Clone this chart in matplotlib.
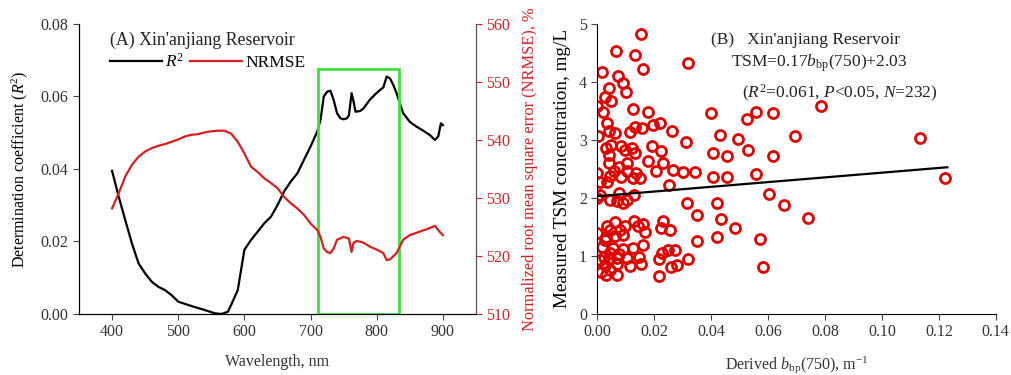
import numpy as np
import matplotlib
matplotlib.use('Agg')
import matplotlib.pyplot as plt
from matplotlib.patches import Rectangle

plt.rcParams['font.family'] = ['Liberation Serif', 'DejaVu Serif']
plt.rcParams['mathtext.fontset'] = 'custom'
plt.rcParams['mathtext.rm'] = 'Liberation Serif'
plt.rcParams['mathtext.it'] = 'Liberation Serif:italic'

## panel A data
wl_r2 = [400, 410, 420, 430, 440, 450, 460, 470, 480, 490, 500, 520, 540, 555, 565,
         575, 580, 590, 600, 610, 620, 630, 640, 650, 660, 670, 680, 690, 700, 710,
         715, 720, 725, 730, 735, 740, 745, 750, 755, 758, 762, 765, 768, 775, 780,
         790, 800, 805, 810, 815, 820, 825, 830, 835, 840, 850, 860, 870, 880, 888,
         893, 897, 900]
r2 = [0.0395, 0.0324, 0.0259, 0.0195, 0.0140, 0.0112, 0.0089, 0.0075, 0.0066, 0.0052,
      0.0034, 0.0022, 0.0011, 0.0002, 0.0000, 0.0006, 0.0025, 0.0066, 0.0177, 0.0204,
      0.0227, 0.0250, 0.0268, 0.0300, 0.0338, 0.0365, 0.0388, 0.0425, 0.0462, 0.0503,
      0.0535, 0.0600, 0.0613, 0.0616, 0.0590, 0.0554, 0.0540, 0.0537, 0.0540, 0.0548,
      0.0609, 0.0586, 0.0558, 0.0560, 0.0567, 0.0592, 0.0610, 0.0618, 0.0625, 0.0655,
      0.0650, 0.0632, 0.0609, 0.0581, 0.0554, 0.0530, 0.0517, 0.0506, 0.0494, 0.0480,
      0.0490, 0.0526, 0.0521]

wl_nr = [400, 410, 420, 430, 440, 450, 460, 470, 480, 490, 500, 510, 520, 530, 540,
         550, 560, 570, 580, 590, 600, 610, 620, 630, 640, 650, 660, 670, 680, 690,
         700, 710, 715, 720, 725, 730, 735, 740, 750, 758, 762, 765, 770, 780, 790,
         800, 810, 815, 820, 830, 840, 850, 860, 870, 880, 888, 895, 900]
nrmse = [528.2, 530.8, 533.7, 535.7, 537.1, 538.0, 538.6, 539.0, 539.3, 539.7, 540.1,
         540.6, 540.9, 541.0, 541.3, 541.5, 541.6, 541.6, 541.1, 539.7, 537.7, 535.4,
         534.5, 533.4, 532.6, 531.7, 530.2, 529.1, 528.2, 527.1, 525.6, 524.5, 523.3,
         521.3, 520.7, 520.5, 521.3, 522.8, 523.3, 523.0, 520.7, 522.3, 522.6, 522.3,
         521.6, 521.1, 520.5, 519.3, 519.4, 520.5, 522.8, 523.6, 524.0, 524.4, 524.8,
         525.2, 524.2, 523.6]

box_wl = [711, 833]
box_top = 0.0676

## panel B data
bbp = [0.0155, 0.0064, 0.0131, 0.0159, 0.0320, 0.0016, 0.0074, 0.0091, 0.0042, 0.0101,
       0.0028, 0.0049, 0.0000, 0.0124, 0.0178, 0.0021, 0.0398, 0.0786, 0.0558, 0.0619,
       0.0527, 0.0033, 0.0197, 0.0220, 0.0131, 0.0157, 0.0040, 0.0115, 0.0262, 0.0063,
       0.0002, 0.0431, 0.0694, 0.1134, 0.0493, 0.0310, 0.0049, 0.0082, 0.0192, 0.0030,
       0.0122, 0.0225, 0.0098, 0.0131, 0.0528, 0.0408, 0.0455, 0.0616, 0.0040, 0.0178,
       0.0230, 0.0042, 0.0103, 0.0077, 0.0206, 0.0265, 0.0105, 0.0057, 0.0136, 0.0302,
       0.0342, 0.0558, 0.0000, 0.0045, 0.0084, 0.0127, 0.0150, 0.0408, 0.0455, 0.1221,
       0.0009, 0.0033, 0.0251, 0.0009, 0.0077, 0.0129, 0.0602, 0.0000, 0.0045, 0.0068,
       0.0091, 0.0103, 0.0314, 0.0422, 0.0656, 0.0351, 0.0436, 0.0740, 0.0062, 0.0129,
       0.0159, 0.0232, 0.0035, 0.0098, 0.0045, 0.0080, 0.0143, 0.0169, 0.0225, 0.0255,
       0.0483, 0.0000, 0.0030, 0.0061, 0.0089, 0.0419, 0.0572, 0.0351, 0.0028, 0.0016,
       0.0056, 0.0091, 0.0124, 0.0159, 0.0045, 0.0023, 0.0075, 0.0227, 0.0248, 0.0274,
       0.0009, 0.0040, 0.0070, 0.0103, 0.0148, 0.0216, 0.0319, 0.0028, 0.0068, 0.0115,
       0.0153, 0.0260, 0.0279, 0.0583, 0.0014, 0.0030, 0.0068, 0.0216, 0.0045]
tsm = [4.82, 4.53, 4.46, 4.23, 4.32, 4.17, 4.11, 3.98, 3.90, 3.83,
       3.74, 3.68, 3.58, 3.54, 3.48, 3.48, 3.46, 3.58, 3.48, 3.46,
       3.36, 3.29, 3.26, 3.29, 3.22, 3.20, 3.16, 3.13, 3.16, 3.12,
       3.07, 3.08, 3.07, 3.03, 3.01, 2.97, 2.92, 2.89, 2.89, 2.86,
       2.86, 2.81, 2.82, 2.78, 2.82, 2.77, 2.73, 2.72, 2.74, 2.63,
       2.61, 2.60, 2.61, 2.54, 2.47, 2.49, 2.47, 2.46, 2.43, 2.44,
       2.44, 2.42, 2.43, 2.38, 2.37, 2.34, 2.35, 2.37, 2.37, 2.35,
       2.28, 2.28, 2.22, 2.05, 2.09, 2.05, 2.07, 2.00, 1.97, 1.94,
       1.92, 1.96, 1.92, 1.92, 1.88, 1.71, 1.63, 1.66, 1.58, 1.60,
       1.56, 1.60, 1.51, 1.52, 1.45, 1.44, 1.51, 1.42, 1.48, 1.45,
       1.49, 1.39, 1.32, 1.35, 1.36, 1.32, 1.30, 1.25, 1.27, 1.15,
       1.13, 1.12, 1.13, 1.19, 1.05, 0.99, 1.04, 1.06, 1.10, 1.10,
       0.93, 0.94, 0.96, 0.96, 0.98, 0.94, 0.94, 0.85, 0.87, 0.83,
       0.87, 0.81, 0.85, 0.81, 0.73, 0.67, 0.68, 0.66, 0.76]
fit_x = [0.0, 0.123]
fit_y = [2.03, 2.53]

red = '#d81e1e'
fs = 11.5

fig = plt.figure(figsize=(10.11, 3.75), dpi=100)

# ---- panel A
ax = fig.add_axes([0.0781, 0.1627, 0.3927, 0.7733])
ax2 = ax.twinx()
ax.plot(wl_r2, r2, color='black', lw=1.6)
ax2.plot(wl_nr, nrmse, color=red, lw=1.6)
ax.add_patch(Rectangle((box_wl[0], 0), box_wl[1] - box_wl[0], box_top,
                       fill=False, edgecolor='#3ee23e', lw=2, zorder=5))
ax.set_xlim(350, 950)
ax.set_ylim(0, 0.08)
ax.set_xticks([400, 500, 600, 700, 800, 900])
ax.set_yticks([0, 0.02, 0.04, 0.06, 0.08])
ax.set_yticklabels(['0.00', '0.02', '0.04', '0.06', '0.08'])
ax2.set_ylim(510, 560)
ax2.set_yticks([510, 520, 530, 540, 550, 560])
ax.spines['top'].set_visible(False)
ax2.spines['top'].set_visible(False)
ax2.spines['right'].set_color('#555555')
ax.tick_params(labelsize=fs, direction='out', length=4, color='#444444', labelcolor='#333333')
ax2.tick_params(labelsize=fs, direction='out', length=4, color=red, labelcolor=red)
ax.set_xlabel('Wavelength, nm', fontsize=fs, color='#333333', labelpad=10)
ax.set_ylabel('Determination coefficient ($R^2$)', fontsize=fs, labelpad=8)
ax2.set_ylabel('Normalized root mean square error (NRMSE), %', fontsize=11.8, color=red, labelpad=8)
ax.text(0.078, 0.945, "(A) Xin'anjiang Reservoir", transform=ax.transAxes,
        fontsize=12.8, va='center', ha='left', color='#222222')
ax.plot([], [], color='black', lw=1.6, label='$R^2$')
ax.plot([], [], color=red, lw=1.6, label='NRMSE')
ax.legend(loc='upper left', bbox_to_anchor=(0.078, 0.90), ncol=2, frameon=False,
          fontsize=12.5, handlelength=3.0, handletextpad=0.2, columnspacing=0.3,
          borderpad=0, borderaxespad=0)

# ---- panel B
bx = fig.add_axes([0.5908, 0.1627, 0.3941, 0.7733])
bx.plot(bbp, tsm, 'o', mfc='none', mec='#e00000', mew=2, ms=7.2, zorder=2)
bx.plot(fit_x, fit_y, color='black', lw=1.6, zorder=3)
bx.set_xlim(0, 0.14)
bx.set_ylim(0, 5)
bx.set_xticks(np.arange(0, 0.141, 0.02))
bx.set_xticklabels(['0.00', '0.02', '0.04', '0.06', '0.08', '0.10', '0.12', '0.14'])
bx.set_yticks([0, 1, 2, 3, 4, 5])
bx.spines['top'].set_visible(False)
bx.spines['right'].set_visible(False)
bx.tick_params(labelsize=fs, direction='out', length=4, color='#444444', labelcolor='#333333')
bx.set_xlabel('Derived $b_{\\mathrm{bp}}$(750), m$^{-1}$', fontsize=fs, color='#333333', labelpad=10)
bx.set_ylabel('Measured TSM concentration, mg/L', fontsize=13.8, labelpad=6)
bx.text(0.285, 0.945, "(B)   Xin'anjiang Reservoir", transform=bx.transAxes,
        fontsize=12.5, va='center', ha='left', color='#222222')
bx.text(0.335, 0.865, 'TSM=0.17$b_{\\mathrm{bp}}$(750)+2.03', transform=bx.transAxes,
        fontsize=12.5, va='center', ha='left', color='#222222')
bx.text(0.362, 0.76, '($R^2$=0.061, $P$<0.05, $N$=232)', transform=bx.transAxes,
        fontsize=12.5, va='center', ha='left', color='#222222')

fig.savefig('out.png', dpi=100)
